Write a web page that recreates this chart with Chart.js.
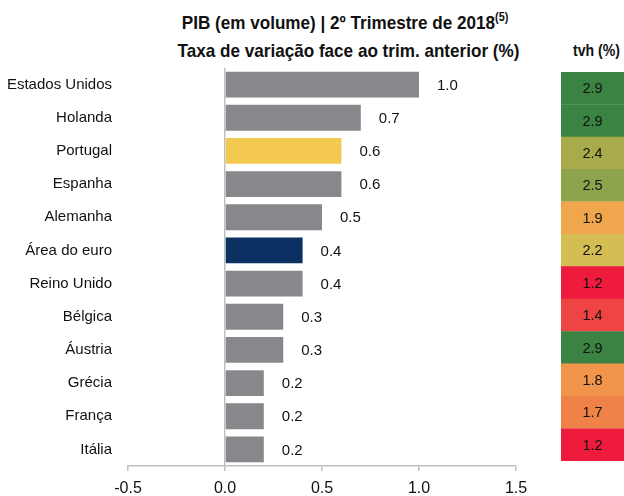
<!DOCTYPE html>
<html>
<head>
<meta charset="utf-8">
<script src="https://cdn.jsdelivr.net/npm/chart.js@4/dist/chart.umd.min.js"></script>
<style>
  body { margin: 0; background: #fff; }
  #wrap { position: relative; width: 624px; height: 496px; font-family: "Liberation Sans", Arial, sans-serif; color: #111; }
  .t { position: absolute; font-weight: bold; white-space: nowrap; text-align: center; transform-origin: 50% 50%; }
  #t1 { left: 0; width: 690px; top: 12px; font-size: 19px; transform: scaleX(0.9); }
  #t2 { left: 0; width: 697px; top: 40px; font-size: 19px; transform: scaleX(0.9); }
  #t3 { left: 561px; width: 71px; top: 41px; font-size: 17px; transform: scaleX(0.83); }
  sup { font-size: 12px; vertical-align: 8px; line-height: 0; }
  #c1 { position: absolute; left: 0; top: 0; }
  #c2 { position: absolute; left: 561px; top: 0; }
</style>
</head>
<body>
<div id="wrap">
  <div class="t" id="t1">PIB (em volume) | 2º Trimestre de 2018<sup>(5)</sup></div>
  <div class="t" id="t2">Taxa de variação face ao trim. anterior (%)</div>
  <div class="t" id="t3">tvh (%)</div>
  <canvas id="c1" width="560" height="496"></canvas>
  <canvas id="c2" width="63" height="496"></canvas>
</div>
<script>
const countries = ["Estados Unidos", "Holanda", "Portugal", "Espanha", "Alemanha", "Área do euro",
  "Reino Unido", "Bélgica", "Áustria", "Grécia", "França", "Itália"];
const qoq = [1.0, 0.7, 0.6, 0.6, 0.5, 0.4, 0.4, 0.3, 0.3, 0.2, 0.2, 0.2];
const tvh = [2.9, 2.9, 2.4, 2.5, 1.9, 2.2, 1.2, 1.4, 2.9, 1.8, 1.7, 1.2];
const xTicks = [-0.5, 0.0, 0.5, 1.0, 1.5];

const FONT = '"Liberation Sans", Arial, sans-serif';
const GREY = "#87888c";
const barColor = c => c === "Portugal" ? "#f3c94f" : c === "Área do euro" ? "#0b3062" : GREY;

// colour scale for the tvh column
const stops = [[1.2,"#ee1b3d"],[1.4,"#ee4444"],[1.7,"#ee8247"],[1.8,"#f0954b"],[1.9,"#f0a64c"],
  [2.2,"#d4bd52"],[2.4,"#a8ab4b"],[2.5,"#8da44c"],[2.9,"#3b8343"]];
const cellColor = v => (stops.find(s => Math.abs(s[0] - v) < 1e-6) || stops[0])[1];

const valueLabels = {
  id: "valueLabels",
  afterDatasetsDraw(chart) {
    const ctx = chart.ctx;
    ctx.save();
    ctx.font = "15px " + FONT;
    ctx.fillStyle = "#111";
    ctx.textBaseline = "middle";
    ctx.textAlign = "left";
    chart.getDatasetMeta(0).data.forEach((bar, i) => {
      ctx.fillText(qoq[i].toFixed(1), bar.x + 18, bar.y + 1);
    });
    ctx.restore();
  }
};

new Chart(document.getElementById("c1"), {
  type: "bar",
  data: {
    labels: countries,
    datasets: [{
      data: qoq,
      backgroundColor: countries.map(barColor),
      borderWidth: 0,
      barPercentage: 0.78,
      categoryPercentage: 1,
    }]
  },
  options: {
    indexAxis: "y",
    responsive: false,
    animation: false,
    layout: { padding: { left: 0, right: 44, top: 68, bottom: 0 } },
    plugins: { legend: { display: false }, tooltip: { enabled: false } },
    scales: {
      x: {
        min: -0.5, max: 1.5,
        afterBuildTicks: s => { s.ticks = xTicks.map(v => ({ value: v })); },
        afterFit: s => { s.height = 30; },
        grid: {
          color: c => c.tick && c.tick.value === 0 ? "#bfbfbf" : "rgba(0,0,0,0)",
          tickColor: "#bfbfbf", tickLength: 5, lineWidth: 1.5,
        },
        border: { display: true, color: "#bfbfbf", width: 1.5 },
        ticks: { color: "#111", font: { family: FONT, size: 16 }, padding: 8,
                 callback: v => Number(v).toFixed(1), maxRotation: 0 },
      },
      y: {
        afterFit: s => { s.width = 128; },
        grid: { display: false, drawTicks: false },
        border: { display: false },
        ticks: { color: "#111", font: { family: FONT, size: 15 }, padding: 16 },
      }
    }
  },
  plugins: [valueLabels]
});

const cellLabels = {
  id: "cellLabels",
  afterDatasetsDraw(chart) {
    const ctx = chart.ctx;
    ctx.save();
    ctx.font = "14.5px " + FONT;
    ctx.fillStyle = "#111";
    ctx.textAlign = "center";
    ctx.textBaseline = "middle";
    chart.getDatasetMeta(0).data.forEach((bar, i) => {
      ctx.fillText(tvh[i].toFixed(1), (chart.chartArea.left + chart.chartArea.right) / 2, bar.y + 1);
    });
    ctx.restore();
  }
};

new Chart(document.getElementById("c2"), {
  type: "bar",
  data: {
    labels: countries,
    datasets: [{
      data: tvh.map(() => [0, 1]),
      backgroundColor: tvh.map(cellColor),
      borderWidth: 0,
      barPercentage: 1.01,
      categoryPercentage: 1,
    }]
  },
  options: {
    indexAxis: "y",
    responsive: false,
    animation: false,
    layout: { padding: { left: 0, right: 0, top: 72, bottom: 35 } },
    plugins: { legend: { display: false }, tooltip: { enabled: false } },
    scales: {
      x: { display: false, min: 0, max: 1 },
      y: { display: false }
    }
  },
  plugins: [cellLabels]
});
</script>
</body>
</html>
